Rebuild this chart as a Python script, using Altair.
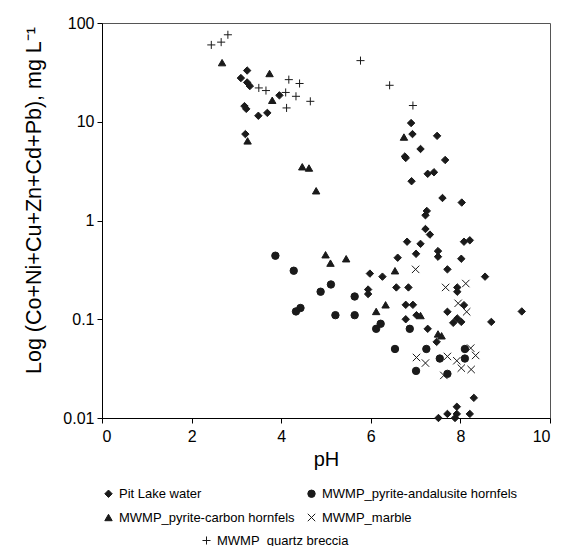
import altair as alt
import pandas as pd

groups = ["Pit Lake water", "MWMP_pyrite-carbon hornfels",
          "MWMP_pyrite-andalusite hornfels", "MWMP_marble"]
breccia = "MWMP_quartz breccia"

pit_ph = [3.24, 3.10, 3.24, 3.30, 3.18, 3.22, 3.49, 3.69, 3.96, 3.20,
          6.90, 6.93, 7.48, 7.11, 6.76, 6.78, 7.66, 7.27, 7.41, 6.91,
          7.60, 8.03, 7.25, 7.22, 7.22, 7.32, 6.81, 7.11, 8.08, 8.21,
          7.50, 7.50, 7.01, 6.60, 8.02, 7.71, 5.98, 6.26, 8.55, 5.94,
          5.94, 6.57, 6.84, 7.93, 7.93, 6.78, 6.94, 8.08, 7.71, 9.37,
          6.78, 7.02, 7.93, 8.02, 7.84, 8.69, 7.27, 7.47, 8.30, 7.92,
          7.71, 7.51, 7.88, 7.92, 8.21]
pit_conc = [33, 27.7, 25, 23, 14.4, 13.5, 11.5, 12.3, 18.5, 7.5,
            9.7, 7.5, 7.2, 5.3, 4.45, 4.3, 4.1, 2.97, 3.08, 2.5,
            1.69, 1.52, 1.25, 1.13, 0.82, 0.72, 0.61, 0.58, 0.61, 0.63,
            0.49, 0.43, 0.46, 0.42, 0.41, 0.32, 0.29, 0.27, 0.27, 0.20,
            0.18, 0.21, 0.21, 0.21, 0.19, 0.14, 0.14, 0.139, 0.119, 0.12,
            0.10, 0.11, 0.102, 0.094, 0.092, 0.094, 0.080, 0.059, 0.016, 0.013,
            0.011, 0.010, 0.010, 0.011, 0.011]

and_ph = [3.87, 4.28, 5.11, 4.88, 4.43, 4.33, 5.21, 5.64, 5.64, 6.22,
          6.12, 6.87, 6.54, 7.24, 7.54, 8.10, 8.10, 7.01, 7.71]
and_conc = [0.44, 0.31, 0.225, 0.19, 0.13, 0.12, 0.11, 0.17, 0.11, 0.090,
            0.080, 0.080, 0.050, 0.050, 0.040, 0.050, 0.040, 0.030, 0.028]

carb_ph = [2.68, 3.74, 3.80, 3.25, 4.47, 4.62, 4.78, 4.99, 5.10, 5.45,
           6.54, 6.74, 6.33, 6.12, 7.11, 7.50, 7.58]
carb_conc = [39.7, 30.8, 16.5, 6.4, 3.5, 3.4, 2.0, 0.45, 0.37, 0.41,
             0.31, 7.0, 0.14, 0.12, 0.109, 0.071, 0.068]

marb_ph = [7.00, 7.67, 8.12, 7.95, 8.14, 8.23, 8.34, 7.02, 7.22, 7.71,
           7.92, 8.02, 8.24, 7.63]
marb_conc = [0.32, 0.21, 0.23, 0.145, 0.119, 0.051, 0.043, 0.041, 0.036, 0.042,
             0.038, 0.032, 0.031, 0.027]

qb_ph = [2.44, 2.66, 2.81, 3.50, 3.66, 4.10, 4.12, 4.17, 4.41, 4.33,
         4.65, 5.77, 6.42, 6.94]
qb_conc = [60, 64, 76, 22, 20.7, 19.8, 13.8, 26.7, 24.4, 18.1,
           16.1, 41.6, 23.4, 14.6]

x_ticks = [0, 2, 4, 6, 8, 10]
y_ticks = [0.01, 0.1, 1, 10, 100]

rows = []
for g, phs, cs in [(groups[0], pit_ph, pit_conc), (groups[1], carb_ph, carb_conc),
                   (groups[2], and_ph, and_conc), (groups[3], marb_ph, marb_conc)]:
    for p, c in zip(phs, cs):
        rows.append({"group": g, "pH": p, "conc": c})
df_main = pd.DataFrame(rows)
df_qb = pd.DataFrame({"group": [breccia] * len(qb_ph), "pH": qb_ph, "conc": qb_conc})

INK = "#1a1a1a"
X_PATH = "M-1,-1L1,1M-1,1L1,-1"
PLUS_PATH = "M-1,0L1,0M0,-1L0,1"
FONT = "Liberation Sans"

x_enc = alt.X("pH:Q", scale=alt.Scale(domain=[0, 10], nice=False),
              axis=alt.Axis(values=x_ticks, title="pH", grid=False,
                            labelPadding=5, titlePadding=5, titleFontSize=20))
y_enc = alt.Y("conc:Q", scale=alt.Scale(type="log", domain=[0.01, 100], nice=False),
              axis=alt.Axis(values=y_ticks, format="~g", grid=False,
                            title="Log (Co+Ni+Cu+Zn+Cd+Pb), mg L\u207b\u00b9",
                            titleFontSize=21.5,
                            titleX=-68, titleY=177, titleBaseline="middle",
                            titleAlign="center", titleAngle=-90))

leg1 = alt.Legend(title=None, orient="none", legendX=0, legendY=464, columns=2,
                  columnPadding=10, rowPadding=10, labelOffset=4, labelLimit=400,
                  symbolSize=55, symbolStrokeWidth=1,
                  labelFontSize=13, labelFont=FONT, labelColor="black", padding=0)
leg2 = alt.Legend(title=None, orient="none", legendX=98, legendY=511,
                  labelOffset=4, labelLimit=400,
                  symbolSize=65, symbolStrokeColor=INK, symbolStrokeWidth=1,
                  symbolFillColor="transparent",
                  labelFontSize=13, labelFont=FONT, labelColor="black", padding=0)

main = alt.Chart(df_main).mark_point(filled=False, strokeWidth=1,
                                     opacity=1, size=55).encode(
    x=x_enc, y=y_enc,
    shape=alt.Shape("group:N", scale=alt.Scale(domain=groups,
                    range=["diamond", "triangle-up", "circle", X_PATH]), legend=leg1),
    fill=alt.Fill("group:N", scale=alt.Scale(domain=groups,
                  range=[INK, INK, INK, "transparent"]), legend=leg1),
    stroke=alt.Stroke("group:N", scale=alt.Scale(domain=groups,
                      range=[INK, INK, INK, INK]), legend=leg1),
)

qb = alt.Chart(df_qb).mark_point(filled=False, stroke=INK, strokeWidth=1,
                                 opacity=1, size=65).encode(
    x=x_enc, y=y_enc,
    shape=alt.Shape("group:N", scale=alt.Scale(domain=[breccia], range=[PLUS_PATH]),
                    legend=leg2),
)

chart = alt.layer(main, qb).resolve_scale(
    shape="independent", fill="independent", stroke="independent"
).properties(
    width=448, height=395,
    background="white",
    autosize=alt.AutoSizeParams(type="none"),
    padding={"left": 94, "top": 15, "right": 15, "bottom": 128},
).configure_view(stroke="#555555", strokeWidth=1).configure_axis(
    domainColor="black", domainWidth=1, tickColor="black", tickSize=5,
    labelColor="black", labelFontSize=16, labelFont=FONT, labelPadding=3,
    titleColor="black", titleFontSize=20, titleFont=FONT, titleFontWeight="normal",
)

chart.save("out.html", embed_options={"renderer": "svg", "actions": False})
